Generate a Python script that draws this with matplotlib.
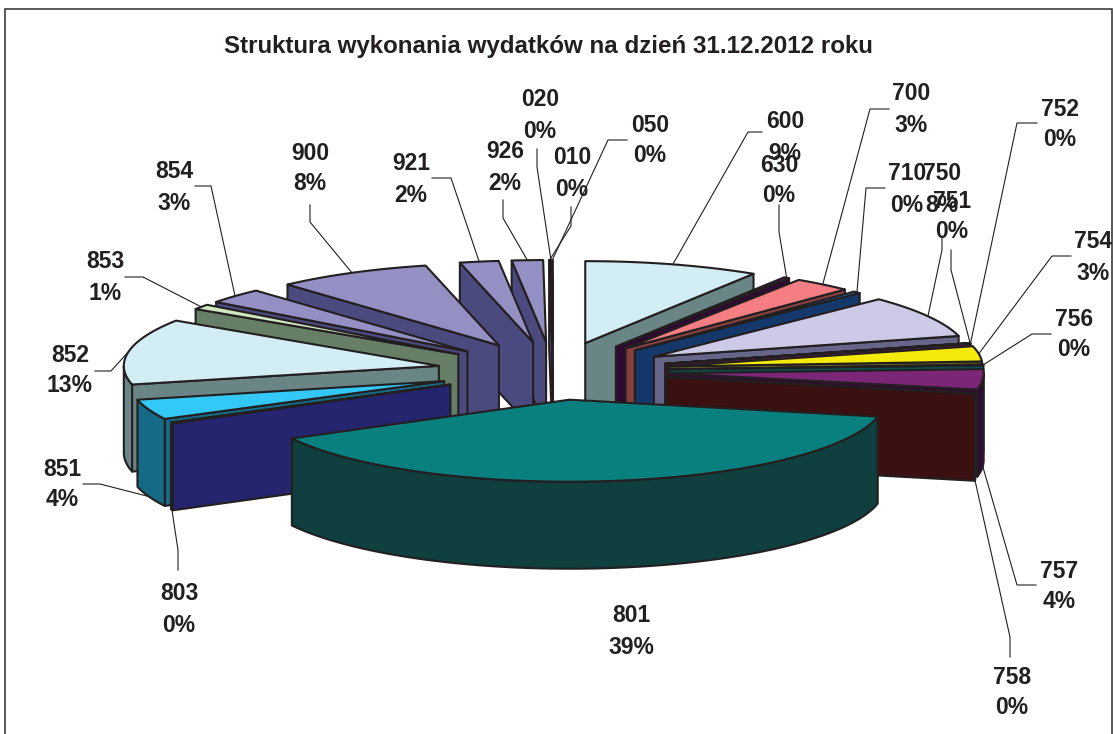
import numpy as np
import matplotlib
matplotlib.use("Agg")
import matplotlib.pyplot as plt
from matplotlib.patches import Polygon

TITLE = "Struktura wykonania wydatków na dzień 31.12.2012 roku"

# Clockwise from 12 o'clock
categories = ["600", "630", "700", "710", "750", "751", "752", "754", "756", "757", "758",
              "801", "803", "851", "852", "853", "854", "900", "921", "926", "010", "020", "050"]
shares = [9.0, 0.3, 3.0, 0.4, 8.3, 0.05, 0.05, 3.0, 0.2, 4.0, 0.1,
          39.0, 0.2, 4.0, 13.0, 1.0, 3.0, 8.0, 2.0, 1.6, 0.05, 0.05, 0.05]

top_colors = ["#d3edf4", "#5c1060", "#f47e82", "#1e70b8", "#cccae6", "#1c1c60", "#b03090", "#f6ea0d",
              "#00a0a0", "#7c2678", "#801018", "#088080", "#24246f", "#33c8f5", "#d3edf4", "#cfe8c0",
              "#9490c4", "#9490c4", "#9490c4", "#9490c4", "#9490c4", "#7a3050", "#f8f8d0"]
side_colors = ["#6a8585", "#2e0a33", "#854040", "#15386b", "#66658a", "#10103a", "#581848", "#7a7520",
               "#0a5050", "#330a33", "#3a1010", "#0f3f3f", "#24246f", "#156a85", "#6a8585", "#667f66",
               "#4b4a7e", "#4b4a7e", "#4b4a7e", "#4b4a7e", "#4b4a7e", "#3d1828", "#7c7c68"]

label_x = [785, 779, 911, 907, 942, 952, 1060, 1093, 1074, 1059, 1012,
           631, 179, 62, 70, 105, 174, 310, 411, 505, 572, 540, 650]
label_y = [120, 163, 92, 172, 172, 199, 107, 240, 317, 569, 675,
           614, 592, 467, 353, 260, 170, 151, 162, 150, 156, 98, 123]
# Each leader: knee point, then the end beside the label
leader_knee = [(748, 132), (779, 232), (870, 109), (866, 188), (942, 250), (951, 270), (1017, 123),
               (1052, 256), (1032, 334), (1017, 585), (1010, 637), None, (178, 550), (100, 484),
               (111, 371), (143, 277), (211, 186), (310, 222), (451, 178), (503, 218),
               (571, 226), (537, 167), (608, 140)]
leader_end = [(762, 132), (779, 205), (889, 109), (885, 188), (942, 238), (951, 250), (1037, 123),
              (1071, 256), (1051, 334), (1036, 585), (1010, 657), None, (178, 570), (83, 484),
              (95, 371), (125, 277), (195, 186), (310, 205), (432, 178), (503, 200),
              (571, 207), (537, 149), (627, 140)]

CX, CY = 553, 371
RX, RY = 315, 82
EX, EY = 116, 29
DEPTH = 87
INK = "#231f20"
LW = 1.5
FONT = "Liberation Sans"

fig = plt.figure(figsize=(11.13, 7.34), dpi=100)
ax = fig.add_axes([0, 0, 1, 1])
ax.set_xlim(0, 1113)
ax.set_ylim(734, 0)
ax.axis("off")

vals = np.array(shares, dtype=float)
edges = np.concatenate([[0], np.cumsum(vals)]) / vals.sum() * 360.0


def apex(mid):
    r = np.radians(mid)
    return CX + EX * np.sin(r), CY - EY * np.cos(r)


def rim(ax0, ay0, t):
    r = np.radians(t)
    return ax0 + RX * np.sin(r), ay0 - RY * np.cos(r)


def draw_wedge(i):
    t0, t1 = edges[i], edges[i + 1]
    mid = (t0 + t1) / 2
    ax0, ay0 = apex(mid)
    ts = np.linspace(t0, t1, max(int(t1 - t0) * 2, 2) + 1)
    arc = np.array([rim(ax0, ay0, t) for t in ts])
    style = dict(edgecolor=INK, linewidth=LW, joinstyle="round", closed=True)

    def face(t):
        px, py = rim(ax0, ay0, t)
        pts = [(ax0, ay0), (px, py), (px, py + DEPTH), (ax0, ay0 + DEPTH)]
        ax.add_patch(Polygon(pts, facecolor=side_colors[i], **style))

    if 180 < t0 < 360:
        face(t0)
    if 0 < t1 < 180:
        face(t1)
    lo, hi = max(t0, 90), min(t1, 270)
    if hi > lo:
        ss = np.linspace(lo, hi, max(int(hi - lo) * 2, 2) + 1)
        upper = np.array([rim(ax0, ay0, t) for t in ss])
        lower = (upper + [0, DEPTH])[::-1]
        ax.add_patch(Polygon(np.vstack([upper, lower]), facecolor=side_colors[i], **style))
    ax.add_patch(Polygon(np.vstack([[ax0, ay0], arc]), facecolor=top_colors[i], **style))


def draw_leader(i):
    if leader_knee[i] is None:
        return
    t = (edges[i] + edges[i + 1]) / 2
    ax0, ay0 = apex(t)
    px, py = rim(ax0, ay0, t)
    if np.cos(np.radians(t)) < 0:
        py += DEPTH
    xs = [px, leader_knee[i][0], leader_end[i][0]]
    ys = [py, leader_knee[i][1], leader_end[i][1]]
    ax.plot(xs, ys, color=INK, lw=0.8, solid_joinstyle="miter", zorder=5)


mids = (edges[:-1] + edges[1:]) / 2
front = int(np.argmax(vals))
right = [i for i in range(len(vals)) if mids[i] < 180 and i != front]
left = [i for i in range(len(vals)) if mids[i] >= 180 and i != front][::-1]
for i in right + left + [front]:
    draw_wedge(i)
for i in range(len(vals)):
    draw_leader(i)

for i, cat in enumerate(categories):
    for line, dy in ((cat, 0), (f"{round(shares[i])}%", 31)):
        ax.text(label_x[i], label_y[i] + dy + 2, line, ha="center", va="center", family=FONT,
                fontweight="bold", fontsize=16.5, color=INK, zorder=6)

ax.text(548, 46, TITLE, ha="center", va="center", family=FONT, fontweight="bold",
        fontsize=17.4, color=INK, zorder=6)

# Chart frame, open at the bottom where the reference is cropped
ax.plot([5, 5, 1112, 1112], [734, 8.5, 8.5, 734], color="#3c3c3c", lw=1.2,
        solid_joinstyle="miter", zorder=7)

fig.savefig("out.png", dpi=100, facecolor="white")
